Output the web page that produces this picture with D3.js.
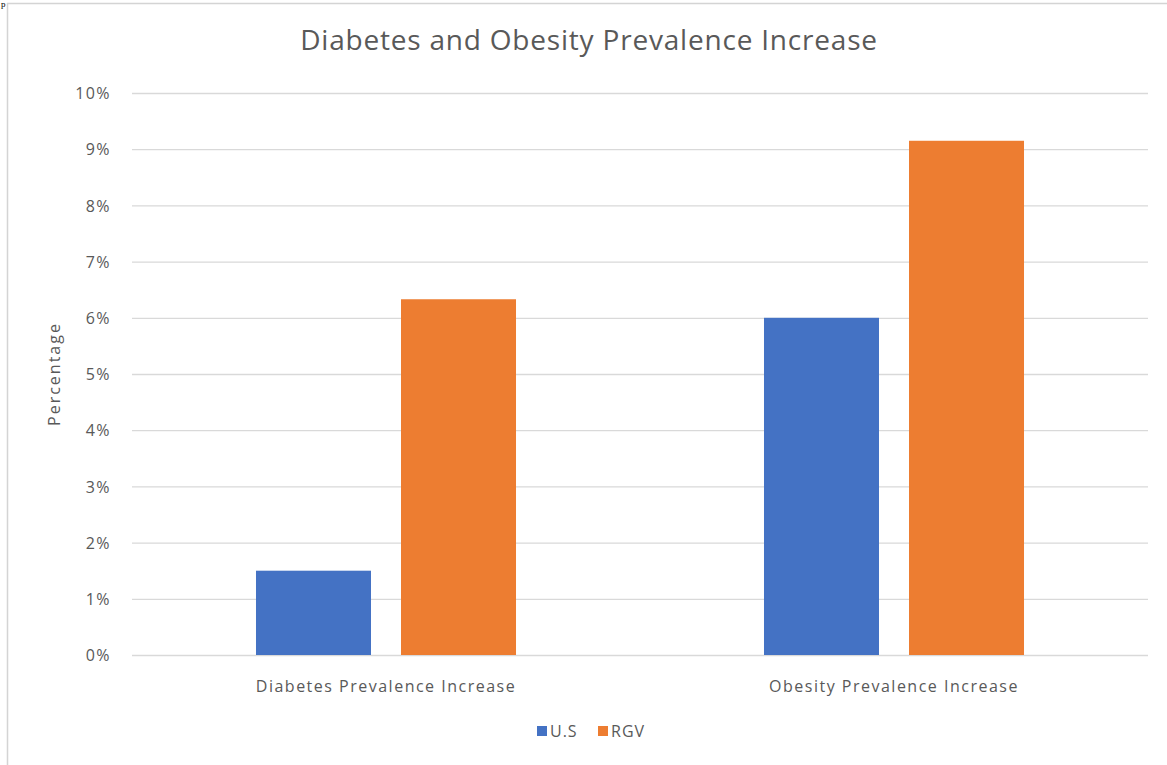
<!DOCTYPE html>
<html>
<head>
<meta charset="utf-8">
<script src="https://cdn.jsdelivr.net/npm/d3@7/dist/d3.min.js"></script>
<style>
  body { margin: 0; background: #fff; }
  svg { display: block; }
  text { font-family: "Open Sans", sans-serif; }
</style>
</head>
<body>
<svg id="chart" width="1167" height="765"></svg>
<script>
const categories = ["Diabetes Prevalence Increase", "Obesity Prevalence Increase"];
const seriesNames = ["U.S", "RGV"];
const usValues = [1.5, 6.0];
const rgvValues = [6.33, 9.15];
const yTicks = [0, 1, 2, 3, 4, 5, 6, 7, 8, 9, 10];
const colors = ["#4472C4", "#ED7D31"];

const svg = d3.select("#chart");
const W = 1167, H = 765;
const plot = { left: 132, right: 1148, top: 93, bottom: 655 };
const labelFont = "'Open Sans', sans-serif";

// chart frame lines
svg.append("line").attr("x1", 7.5).attr("x2", 7.5).attr("y1", 3).attr("y2", H)
  .attr("stroke", "#d4d4d4").attr("stroke-width", 1.5);
svg.append("line").attr("x1", 7).attr("x2", W).attr("y1", 3.5).attr("y2", 3.5)
  .attr("stroke", "#d4d4d4").attr("stroke-width", 1.5);
// fragment of document text above the chart
svg.append("text").attr("x", 1).attr("y", 7)
  .attr("font-size", 9).attr("fill", "#000").style("font-family", "'Liberation Serif', serif").text("p");

const y = d3.scaleLinear().domain([0, 10]).range([plot.bottom, plot.top]);
const x0 = d3.scaleBand().domain(categories).range([plot.left, plot.right]).padding(0);
const x1 = d3.scaleBand().domain(seriesNames).range([0, x0.bandwidth()])
  .paddingInner(0.207).paddingOuter(0.855);

// gridlines
const grid = svg.append("g")
  .attr("transform", `translate(${plot.left},0)`)
  .call(d3.axisLeft(y).tickValues(yTicks).tickSize(-(plot.right - plot.left)).tickFormat(""));
grid.select(".domain").remove();
grid.selectAll(".tick line").attr("stroke", "#d9d9d9").attr("stroke-width", 1.3);

// y labels
const yAxis = svg.append("g")
  .attr("transform", `translate(${plot.left - 21},0)`)
  .call(d3.axisLeft(y).tickValues(yTicks).tickSize(0).tickFormat(d => d + "%"));
yAxis.select(".domain").remove();
yAxis.selectAll("text").attr("fill", "#595959").attr("font-size", 16)
  .style("font-family", labelFont).style("letter-spacing", "1.4px")
  .attr("dy", "0.35em").attr("x", 0);

// bars
const data = categories.map((c, i) => ({ cat: c, vals: [usValues[i], rgvValues[i]] }));
const groups = svg.append("g").selectAll("g").data(data).join("g")
  .attr("transform", d => `translate(${x0(d.cat)},0)`);
groups.selectAll("rect").data(d => d.vals.map((v, j) => ({ s: seriesNames[j], v, j })))
  .join("rect")
  .attr("x", d => x1(d.s))
  .attr("width", x1.bandwidth())
  .attr("y", d => y(d.v))
  .attr("height", d => y(0) - y(d.v))
  .attr("fill", d => colors[d.j]);

// x labels
const xAxis = svg.append("g")
  .attr("transform", `translate(0,${plot.bottom})`)
  .call(d3.axisBottom(x0).tickSize(0));
xAxis.select(".domain").remove();
xAxis.selectAll("text").attr("fill", "#595959").attr("font-size", 16)
  .style("font-family", labelFont).style("letter-spacing", "1.5px")
  .attr("dy", 0).attr("y", 37);

// title
svg.append("text").attr("x", 589).attr("y", 50).attr("text-anchor", "middle")
  .attr("fill", "#595959").attr("font-size", 28).style("font-family", labelFont)
  .style("letter-spacing", "0.8px")
  .text("Diabetes and Obesity Prevalence Increase");

// y axis title
svg.append("text").attr("transform", `translate(60,${374}) rotate(-90)`)
  .attr("text-anchor", "middle").attr("fill", "#595959").attr("font-size", 16)
  .style("font-family", labelFont).style("letter-spacing", "2px").text("Percentage");

// legend
const legend = svg.append("g").attr("transform", "translate(0,731)");
const lx = [537, 598];
seriesNames.forEach((s, i) => {
  legend.append("rect").attr("x", lx[i]).attr("y", -5).attr("width", 10).attr("height", 10).attr("fill", colors[i]);
  legend.append("text").attr("x", lx[i] + 13).attr("y", 0).attr("dy", "0.35em")
    .attr("fill", "#595959").attr("font-size", 16).style("font-family", labelFont)
    .style("letter-spacing", "1px").text(s);
});
</script>
</body>
</html>
